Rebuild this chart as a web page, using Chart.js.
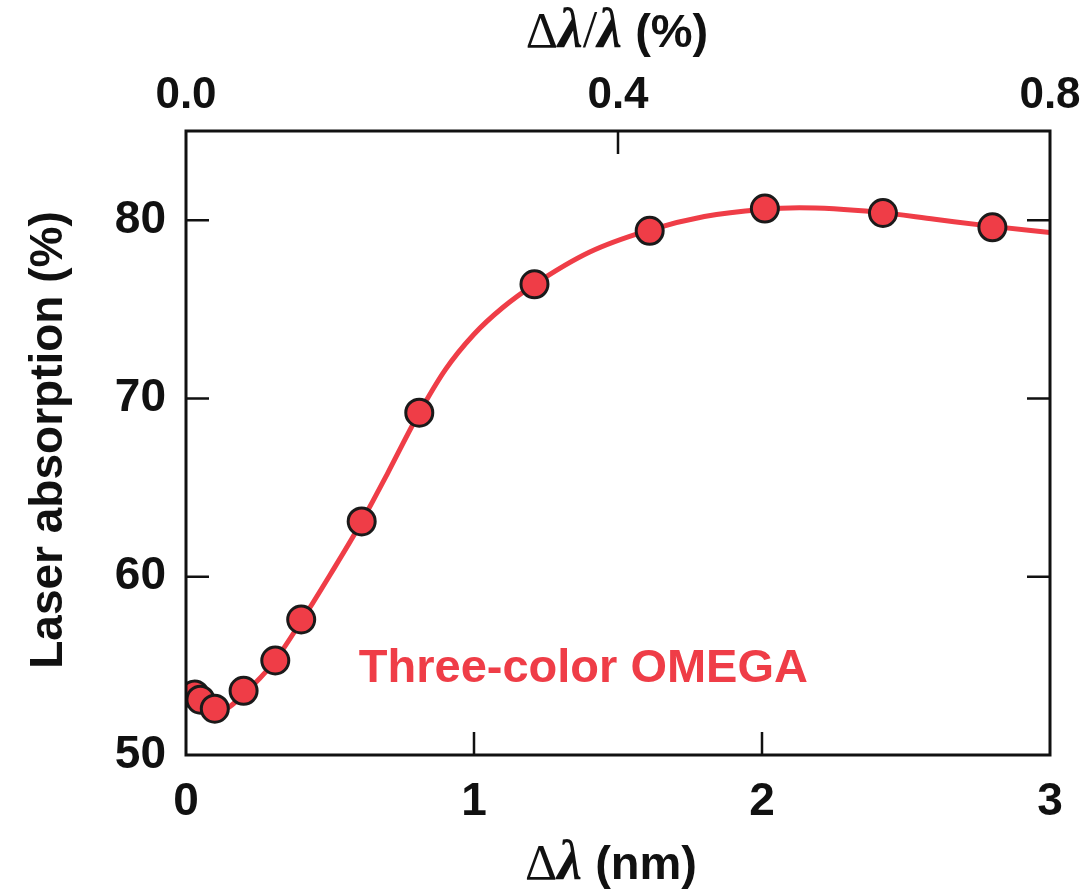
<!DOCTYPE html>
<html>
<head>
<meta charset="utf-8">
<script src="https://cdn.jsdelivr.net/npm/chart.js@4.4.1/dist/chart.umd.min.js"></script>
<style>
  html, body { margin: 0; padding: 0; background: #ffffff; }
  #wrap { width: 1080px; height: 889px; position: relative; }
</style>
</head>
<body>
<div id="wrap"><canvas id="c" width="1080" height="889"></canvas></div>
<script>
// Measured absorption vs. bandwidth (Δλ in nm, absorption in %)
const measuredDeltaLambda = [0.03, 0.05, 0.1, 0.2, 0.31, 0.4, 0.61, 0.81, 1.21, 1.61, 2.01, 2.42, 2.8];
const measuredAbsorption  = [53.4, 53.1, 52.6, 53.6, 55.3, 57.6, 63.1, 69.2, 76.4, 79.4, 80.65, 80.4, 79.6];

// Smooth trend curve through the measurements
const curveDeltaLambda = [0.03, 0.06, 0.1, 0.14, 0.2, 0.3, 0.4, 0.5, 0.6, 0.7, 0.8, 0.9, 1.0, 1.1, 1.21, 1.4, 1.6, 1.8, 2.0, 2.13, 2.4, 2.6, 2.8, 3.0];
const curveAbsorption  = [53.3, 52.8, 52.5, 52.6, 53.4, 55.1, 57.5, 60.1, 62.8, 65.8, 68.9, 71.6, 73.6, 75.1, 76.4, 78.2, 79.4, 80.2, 80.6, 80.69, 80.45, 80.05, 79.65, 79.3];

// Axis tick values
const bottomTicks = [0, 1, 2, 3];
const topTicks = [0.0, 0.4, 0.8];
const leftTicks = [50, 60, 70, 80];

const RED = '#ef3d47';
const INK = '#111111';
const SANS = '"Liberation Sans", Arial, Helvetica, sans-serif';
const SERIF = '"Liberation Serif", "DejaVu Serif", serif';

// Frame, inward ticks, axis titles and the series label
const framePlugin = {
  id: 'frame',
  afterDatasetsDraw(chart) {
    const { ctx, chartArea: a, scales } = chart;
    const x = scales.x, x2 = scales.x2, y = scales.y;
    const tick = 23;
    ctx.save();
    ctx.strokeStyle = INK;
    ctx.lineWidth = 2.5;
    ctx.beginPath();
    bottomTicks.slice(1, -1).forEach(v => {
      const px = x.getPixelForValue(v);
      ctx.moveTo(px, a.bottom); ctx.lineTo(px, a.bottom - tick);
    });
    topTicks.slice(1, -1).forEach(v => {
      const px = x2.getPixelForValue(v);
      ctx.moveTo(px, a.top); ctx.lineTo(px, a.top + tick);
    });
    leftTicks.slice(1).forEach(v => {
      const py = y.getPixelForValue(v);
      ctx.moveTo(a.left, py); ctx.lineTo(a.left + tick, py);
      ctx.moveTo(a.right, py); ctx.lineTo(a.right - tick, py);
    });
    ctx.stroke();
    ctx.lineWidth = 3;
    ctx.strokeRect(a.left, a.top, a.right - a.left, a.bottom - a.top);

    // series label
    ctx.fillStyle = RED;
    ctx.font = 'bold 47px ' + SANS;
    ctx.textAlign = 'left';
    ctx.textBaseline = 'alphabetic';
    ctx.fillText('Three-color OMEGA', x.getPixelForValue(0.6), y.getPixelForValue(54.1));

    // axis titles with Greek symbols
    ctx.fillStyle = INK;
    function drawParts(parts, cx, cy) {
      let total = 0;
      parts.forEach(p => { ctx.font = p.f; p.w = ctx.measureText(p.t).width; total += p.w; });
      let px = cx - total / 2;
      parts.forEach(p => { ctx.font = p.f; ctx.fillText(p.t, px, cy); px += p.w; });
    }
    ctx.textBaseline = 'alphabetic';
    ctx.textAlign = 'left';
    drawParts([
      { t: 'Δ', f: '50px ' + SERIF },
      { t: 'λ', f: 'italic bold 56px ' + SERIF },
      { t: ' (nm)', f: 'bold 47px ' + SANS }
    ], 611, 879);
    drawParts([
      { t: 'Δ', f: '50px ' + SERIF },
      { t: 'λ', f: 'italic bold 56px ' + SERIF },
      { t: '/', f: '52px ' + SERIF },
      { t: 'λ', f: 'italic bold 56px ' + SERIF },
      { t: ' (%)', f: 'bold 47px ' + SANS }
    ], 617, 47);

    ctx.translate(62, 440);
    ctx.rotate(-Math.PI / 2);
    ctx.textAlign = 'center';
    ctx.font = 'bold 46px ' + SANS;
    ctx.fillText('Laser absorption (%)', 0, 0);
    ctx.restore();
  }
};

const tickFont = { family: SANS, size: 46, weight: 'bold' };
const topTickFont = { family: SANS, size: 44, weight: 'bold' };
const noSidePad = s => { s.paddingLeft = 0; s.paddingRight = 0; };

new Chart(document.getElementById('c'), {
  type: 'scatter',
  data: {
    datasets: [
      {
        type: 'line',
        label: 'fit',
        data: curveDeltaLambda.map((v, i) => ({ x: v, y: curveAbsorption[i] })),
        borderColor: RED,
        borderWidth: 5,
        pointRadius: 0,
        cubicInterpolationMode: 'monotone',
        fill: false,
        order: 2
      },
      {
        label: 'Three-color OMEGA',
        data: measuredDeltaLambda.map((v, i) => ({ x: v, y: measuredAbsorption[i] })),
        backgroundColor: RED,
        borderColor: '#1a1a1a',
        borderWidth: 3,
        pointRadius: 13.5,
        order: 1
      }
    ]
  },
  options: {
    responsive: false,
    animation: false,
    events: [],
    layout: { padding: { left: 0, right: 30, top: 0, bottom: 0 } },
    plugins: { legend: { display: false }, tooltip: { enabled: false } },
    scales: {
      x: {
        type: 'linear', position: 'bottom', min: 0, max: 3,
        afterBuildTicks: s => { s.ticks = bottomTicks.map(v => ({ value: v })); },
        ticks: { font: tickFont, color: INK, padding: 20, callback: v => String(v), maxRotation: 0 },
        grid: { display: false, drawTicks: false },
        border: { display: false },
        afterFit: s => { s.height = 134; noSidePad(s); }
      },
      x2: {
        type: 'linear', position: 'top', min: 0, max: 0.8,
        afterBuildTicks: s => { s.ticks = topTicks.map(v => ({ value: v })); },
        ticks: { font: topTickFont, color: INK, padding: 9, callback: v => v.toFixed(1), maxRotation: 0 },
        grid: { display: false, drawTicks: false },
        border: { display: false },
        afterFit: s => { s.height = 131; noSidePad(s); }
      },
      y: {
        type: 'linear', position: 'left', min: 50, max: 85,
        afterBuildTicks: s => { s.ticks = leftTicks.map(v => ({ value: v })); },
        ticks: { font: tickFont, color: INK, padding: 20, callback: v => String(v) },
        grid: { display: false, drawTicks: false },
        border: { display: false },
        afterFit: s => { s.width = 186; s.paddingTop = 0; s.paddingBottom = 0; }
      }
    }
  },
  plugins: [framePlugin]
});
</script>
</body>
</html>
